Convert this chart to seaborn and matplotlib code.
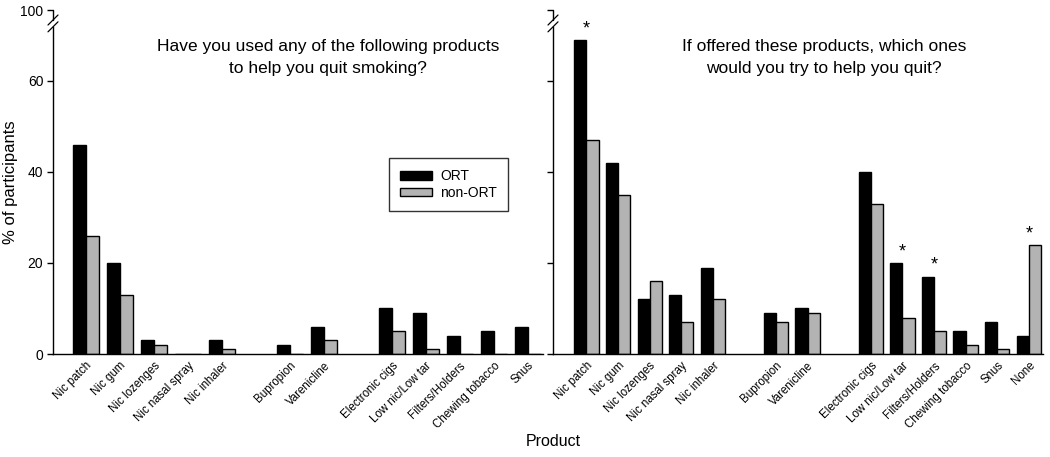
import numpy as np
import pandas as pd
import matplotlib
matplotlib.use("Agg")
import matplotlib.pyplot as plt
import matplotlib.transforms as mtransforms
import seaborn as sns

# ---------------- data ----------------
left_products = ["Nic patch", "Nic gum", "Nic lozenges", "Nic nasal spray", "Nic inhaler",
                 "Bupropion", "Varenicline",
                 "Electronic cigs", "Low nic/Low tar", "Filters/Holders", "Chewing tobacco", "Snus"]
left_ort = [46, 20, 3, 0, 3, 2, 6, 10, 9, 4, 5, 6]
left_non = [26, 13, 2, 0, 1, 0, 3, 5, 1, 0, 0, 0]

right_products = ["Nic patch", "Nic gum", "Nic lozenges", "Nic nasal spray", "Nic inhaler",
                  "Bupropion", "Varenicline",
                  "Electronic cigs", "Low nic/Low tar", "Filters/Holders", "Chewing tobacco", "Snus", "None"]
right_ort = [69, 42, 12, 13, 19, 9, 10, 40, 20, 17, 5, 7, 4]
right_non = [47, 35, 16, 7, 12, 7, 9, 33, 8, 5, 2, 1, 24]
right_sig = ["Nic patch", "Low nic/Low tar", "Filters/Holders", "None"]

groups = ["ORT", "non-ORT"]
left_title = "Have you used any of the following products\nto help you quit smoking?"
right_title = "If offered these products, which ones\nwould you try to help you quit?"
ytick_vals = [0, 20, 40, 60]
ytick_labels = ["0", "20", "40", "60"]
top_label = "100"

# order with blank slots between product families
gap1, gap2 = " ", "  "
left_order = left_products[:5] + [gap1] + left_products[5:7] + [gap2] + left_products[7:]
right_order = right_products[:5] + [gap1] + right_products[5:7] + [gap2] + right_products[7:]


def make_df(products, ort, non):
    return pd.DataFrame({
        "product": products * 2,
        "pct": list(ort) + list(non),
        "group": [groups[0]] * len(products) + [groups[1]] * len(products),
    })


df_left = make_df(left_products, left_ort, left_non)
df_right = make_df(right_products, right_ort, right_non)

sns.set_style("ticks")
plt.rcParams["font.family"] = ["Liberation Sans", "DejaVu Sans"]
plt.rcParams["text.color"] = "black"
plt.rcParams["xtick.color"] = "black"
plt.rcParams["ytick.color"] = "black"
plt.rcParams["axes.labelcolor"] = "black"

W, H = 1050, 457
fig = plt.figure(figsize=(W / 100, H / 100), dpi=100)

YTOP = 75.6
pal = {"ORT": "#000000", "non-ORT": "#b3b3b3"}


def fx(px):
    return px / W


def fy(py):
    return 1 - py / H


ax_l = fig.add_axes([fx(53), fy(354), 490 / W, 344 / H])
ax_r = fig.add_axes([fx(553), fy(354), 490 / W, 344 / H])


def setup(ax, df, order, xlim, show_labels):
    sns.barplot(data=df, x="product", y="pct", hue="group", order=order,
                hue_order=groups, palette=pal, width=0.77, edgecolor="black",
                linewidth=1.0, saturation=1, ax=ax, legend=True)
    ax.set_xlim(*xlim)
    ax.set_ylim(0, YTOP)
    ax.set_xlabel("")
    ax.set_ylabel("")
    ax.set_xticks(range(len(order)))
    ax.set_xticklabels(order, rotation=45, ha="right", rotation_mode="anchor", fontsize=8.3)
    ax.tick_params(axis="x", length=0, pad=4)
    ax.set_yticks(ytick_vals + [YTOP])
    if show_labels:
        ax.set_yticklabels(ytick_labels + [top_label], fontsize=10)
    else:
        ax.set_yticklabels([])
    ax.tick_params(axis="y", length=4, width=1, direction="out", color="black", pad=3)
    for s in ["top", "right"]:
        ax.spines[s].set_visible(False)
    for s in ["left", "bottom"]:
        ax.spines[s].set_color("black")
        ax.spines[s].set_linewidth(1.0)
    # broken y axis
    lo, hi = 71.9, 73.4
    ax.spines["left"].set_bounds(0, lo)
    tr = mtransforms.blended_transform_factory(ax.transAxes, ax.transData)
    ax.plot([0, 0], [hi, YTOP], transform=tr, color="black", lw=1.0, clip_on=False)
    dx = 5 / 490
    dy = 5 / 4.55
    for yv in (lo, hi):
        ax.plot([-dx, dx], [yv - dy, yv + dy], transform=tr, color="black", lw=0.9, clip_on=False)
    leg = ax.get_legend()
    if leg is not None:
        leg.remove()


setup(ax_l, df_left, left_order, (-0.97, 13.45), True)
setup(ax_r, df_right, right_order, (-1.06, 14.45), False)

# significance stars
for p in right_sig:
    i = right_order.index(p)
    k = right_products.index(p)
    top = max(right_ort[k], right_non[k])
    ax_r.text(i, top + 0.6, "*", ha="center", va="bottom", fontsize=13, color="black")

# titles inside panels
ax_l.text(0.561, 0.915, left_title, transform=ax_l.transAxes, ha="center", va="top",
          fontsize=12.5, linespacing=1.55)
ax_r.text(0.553, 0.915, right_title, transform=ax_r.transAxes, ha="center", va="top",
          fontsize=12.5, linespacing=1.55)

# legend
handles, labels = ax_l.get_legend_handles_labels()
fig.legend(handles[:2], labels[:2], loc="upper left", bbox_to_anchor=(fx(389), fy(158)),
           bbox_transform=fig.transFigure, borderaxespad=0, frameon=True, fancybox=False,
           edgecolor="black", fontsize=10, handlelength=2.3, handleheight=0.6,
           borderpad=0.8, labelspacing=0.2, handletextpad=0.6)
fig.legends[0].get_frame().set_linewidth(1.0)

# axis labels
fig.text(fx(10), fy(182), "% of participants", rotation=90, ha="center", va="center", fontsize=12)
fig.text(fx(553), fy(441), "Product", ha="center", va="center", fontsize=11.5)

fig.savefig("out.png", dpi=100)
